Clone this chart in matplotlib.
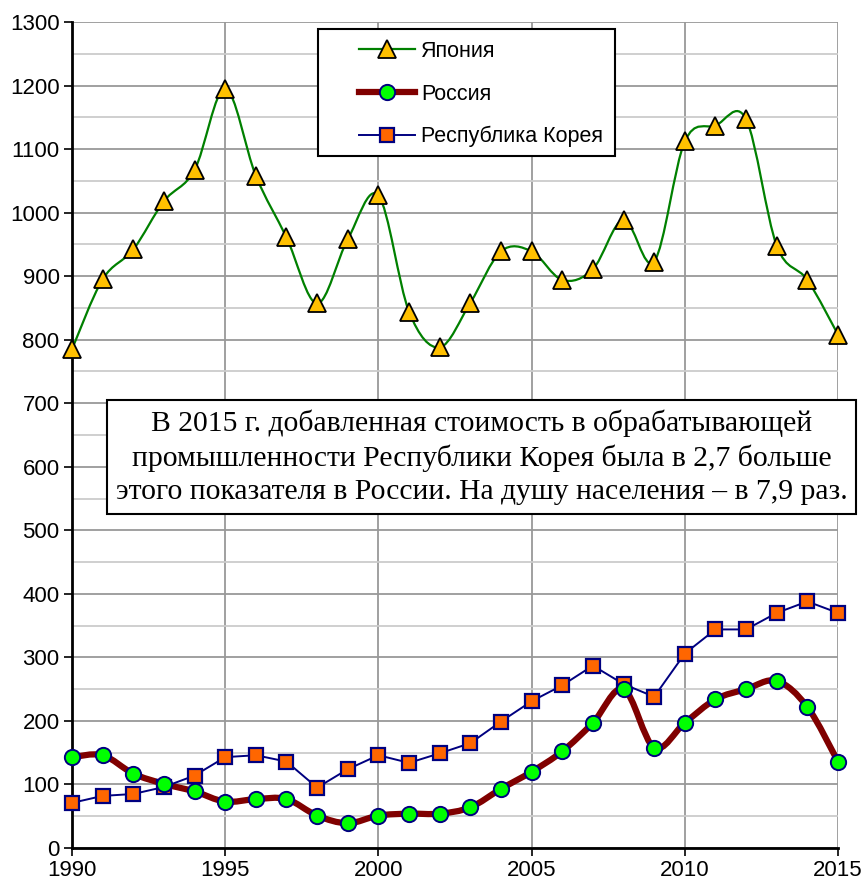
import numpy as np
import matplotlib.pyplot as plt
from matplotlib.path import Path
from matplotlib.patches import PathPatch, Rectangle
from matplotlib.ticker import MultipleLocator

years = list(range(1990, 2016))

japan = [785, 895, 942, 1018, 1067, 1195, 1058, 961, 857, 958, 1027, 844, 788,
         858, 939, 939, 894, 911, 989, 923, 1112, 1137, 1147, 948, 894, 808]
russia = [143, 146, 117, 101, 89, 73, 77, 77, 51, 39, 51, 54, 54,
          64, 93, 120, 152, 197, 250, 158, 197, 234, 250, 263, 222, 136]
korea = [71, 82, 85, 96, 114, 143, 146, 136, 95, 124, 146, 134, 149,
         165, 199, 231, 256, 287, 258, 238, 306, 344, 344, 370, 388, 370]

names = ["Япония", "Россия", "Республика Корея"]

note = ("В 2015 г. добавленная стоимость в обрабатывающей\n"
        "промышленности Республики Корея была в 2,7 больше\n"
        "этого показателя в России. На душу населения – в 7,9 раз.")


def smooth_path(x, y):
    # Excel-style smoothed line: Catmull-Rom as cubic Bezier segments
    x = np.asarray(x, float)
    y = np.asarray(y, float)
    verts = [(x[0], y[0])]
    codes = [Path.MOVETO]
    n = len(x)
    for i in range(n - 1):
        x0, y0 = (x[i - 1], y[i - 1]) if i > 0 else (x[i], y[i])
        x3, y3 = (x[i + 2], y[i + 2]) if i + 2 < n else (x[i + 1], y[i + 1])
        c1 = (x[i] + (x[i + 1] - x0) / 6, y[i] + (y[i + 1] - y0) / 6)
        c2 = (x[i + 1] - (x3 - x[i]) / 6, y[i + 1] - (y3 - y[i]) / 6)
        verts += [c1, c2, (x[i + 1], y[i + 1])]
        codes += [Path.CURVE4] * 3
    return Path(verts, codes)


W, H = 865, 883
fig = plt.figure(figsize=(W / 100, H / 100), dpi=100)
ax = fig.add_axes([72 / W, 35 / H, 766 / W, 826 / H])

ax.set_xlim(1990, 2015)
ax.set_ylim(0, 1300)
ax.xaxis.set_major_locator(MultipleLocator(5))
ax.yaxis.set_major_locator(MultipleLocator(100))
ax.yaxis.set_minor_locator(MultipleLocator(50))
ax.grid(which="major", color="#999999", lw=1.3)
ax.grid(which="minor", axis="y", color="#cccccc", lw=1.3)
ax.tick_params(which="minor", length=0)
ax.tick_params(which="major", length=6, width=1.2, labelsize=16, direction="out", pad=3)
for lab in ax.get_xticklabels() + ax.get_yticklabels():
    lab.set_family("Liberation Sans")
ax.set_axisbelow(True)
for s in ["top", "right"]:
    ax.spines[s].set_visible(False)
for s in ["left", "bottom"]:
    ax.spines[s].set_linewidth(2)

jstyle = dict(marker="^", ms=12.5, mfc="#FFC000", mec="black", mew=1.3)
rstyle = dict(marker="o", ms=11, mfc="#00FF00", mec="#000080", mew=1.4)
kstyle = dict(marker="s", ms=10, mfc="#FF6600", mec="#000080", mew=1.6)

# Japan (smoothed)
ax.add_patch(PathPatch(smooth_path(years, japan), fill=False, ec="#008000", lw=1.6, zorder=3))
ax.plot(years, japan, ls="none", zorder=5, clip_on=False, **jstyle)
# Russia (smoothed, thick)
ax.add_patch(PathPatch(smooth_path(years, russia), fill=False, ec="#800000", lw=4.5,
                       capstyle="round", zorder=3))
ax.plot(years, russia, ls="none", zorder=5, clip_on=False, **rstyle)
# Korea (straight)
ax.plot(years, korea, color="#000080", lw=1.4, zorder=4, clip_on=False, **kstyle)

# legend
hj, = ax.plot([], [], color="#008000", lw=1.6, **jstyle)
hr, = ax.plot([], [], color="#800000", lw=4.5, **rstyle)
hk, = ax.plot([], [], color="#000080", lw=1.4, **kstyle)
fig.patches.append(Rectangle((318 / W, 1 - 156 / H), 297 / W, 127 / H, transform=fig.transFigure,
                             fc="white", ec="black", lw=1.5, zorder=5))
leg = fig.legend([hj, hr, hk], names, loc="upper left",
                 bbox_to_anchor=(359 / W, 1 - 41 / H), frameon=False,
                 prop={"family": "Liberation Sans", "size": 15.5}, labelspacing=1.0,
                 handlelength=2.6, handletextpad=0.3, borderpad=0, borderaxespad=0)
leg.set_zorder(6)

ax.text(481.5 / W, 1 - 457 / H, note, transform=fig.transFigure,
        ha="center", va="center", family="Liberation Serif", fontsize=21.3,
        linespacing=1.36, zorder=6,
        bbox=dict(boxstyle="square,pad=0.3", fc="white", ec="black", lw=1.5))

fig.savefig("out.png", dpi=100)
